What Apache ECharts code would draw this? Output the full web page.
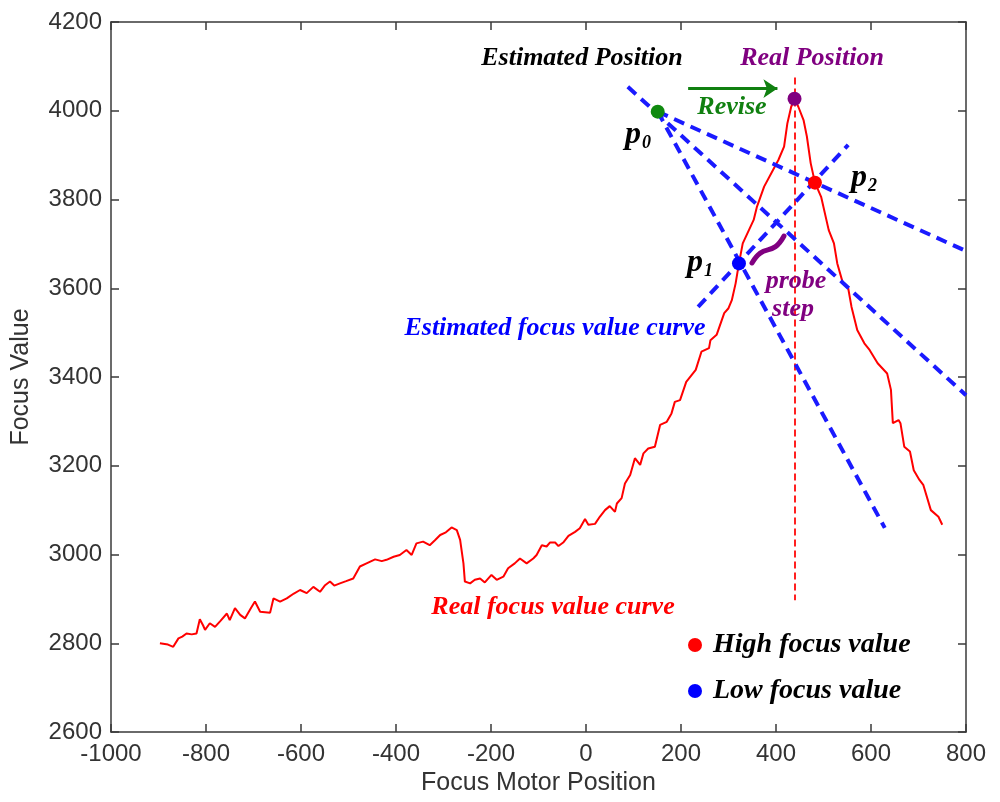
<!DOCTYPE html>
<html>
<head>
<meta charset="utf-8">
<script src="https://cdn.jsdelivr.net/npm/echarts@6/dist/echarts.min.js"></script>
<style>
  html, body { margin: 0; padding: 0; background: #fff; }
  #chart { width: 1000px; height: 802px; }
</style>
</head>
<body>
<div id="chart"></div>
<script>
// axis ranges (tick labels come from these)
const xMin = -1000, xMax = 800, xStep = 200;
const yMin = 2600, yMax = 4200, yStep = 200;

// real focus value curve
const curvePos = [-897, -880, -869, -858, -850, -841, -830, -820, -813, -806, -802, -792, -781, -770, -756, -750,
  -739, -728, -718, -705, -697, -686, -665, -658, -644, -630, -615, -602, -588, -574, -560, -550, -539, -530,
  -518, -505, -490, -476, -462, -444, -430, -420, -405, -392, -378, -367, -357, -343, -329, -318, -307, -295,
  -283, -272, -265, -258, -255, -244, -234, -223, -213, -199, -188, -174, -164, -150, -139, -125, -111, -104,
  -93, -83, -76, -65, -58, -48, -37, -23, -13, -2, 5, 19, 29, 40, 50, 61, 65, 75, 82, 93, 103, 114, 121, 131,
  145, 156, 170, 180, 187, 198, 211, 231, 243, 259, 262, 275, 291, 300, 307, 315, 322, 330, 353, 360, 375, 394,
  405, 417, 424, 432, 439, 447, 458, 465, 473, 482, 495, 511, 522, 529, 541, 552, 559, 571, 586, 597, 614, 634,
  642, 646, 658, 662, 670, 682, 690, 702, 710, 726, 742, 750];
const curveVal = [2800, 2797, 2792, 2811, 2815, 2822, 2820, 2822, 2854, 2840, 2830, 2845, 2837, 2850, 2867, 2852,
  2879, 2864, 2856, 2880, 2894, 2871, 2869, 2901, 2894, 2901, 2912, 2920, 2913, 2927, 2916, 2930, 2939, 2930,
  2935, 2940, 2946, 2973, 2980, 2989, 2985, 2988, 2995, 2999, 3010, 2999, 3025, 3029, 3021, 3032, 3044, 3050,
  3061, 3055, 3033, 2980, 2939, 2935, 2943, 2946, 2937, 2954, 2943, 2950, 2969, 2980, 2991, 2980, 2991, 2999,
  3021, 3018, 3027, 3027, 3019, 3027, 3042, 3051, 3059, 3080, 3067, 3069, 3085, 3100, 3109, 3096, 3115, 3127,
  3160, 3179, 3217, 3202, 3228, 3239, 3243, 3292, 3299, 3318, 3344, 3348, 3389, 3416, 3457, 3465, 3483, 3495,
  3544, 3555, 3573, 3611, 3656, 3701, 3754, 3784, 3829, 3867, 3889, 3919, 3972, 4009, 4027, 4009, 3979, 3942,
  3882, 3838, 3806, 3731, 3701, 3656, 3611, 3600, 3558, 3506, 3476, 3461, 3431, 3408, 3371, 3296, 3303, 3296,
  3243, 3232, 3190, 3168, 3157, 3100, 3085, 3067];

// key points
const p0 = [151, 3998];
const p1 = [322, 3656];
const p2 = [482, 3838];
const realPeak = [439, 4027];

// estimated (dashed) lines, end points
const lineMid = [[88, 4054], [800, 3359]];
const lineFlat = [[151, 3998], [800, 3684]];
const lineSteep = [[151, 3998], [629, 3060]];
const lineCross = [[236, 3558], [552, 3923]];
const realLine = [[440, 4075], [440, 2897]];
const reviseArrow = [[215, 4050], [403, 4050]];

const serif = "'Liberation Serif', 'Times New Roman', serif";
const sans = "'Liberation Sans', Arial, sans-serif";

const chart = echarts.init(document.getElementById('chart'));

function dashed(name, pts, color, width, dash) {
  return {
    name: name,
    type: 'line',
    data: pts,
    showSymbol: false,
    silent: true,
    z: 3,
    lineStyle: {color: color, width: width, type: dash}
  };
}

function dot(name, pt, color) {
  return {
    name: name,
    type: 'scatter',
    data: [pt],
    symbol: 'circle',
    symbolSize: 14,
    z: 5,
    itemStyle: {color: color, opacity: 1}
  };
}

function note(text, x, y, color, size) {
  return {
    type: 'text',
    x: x,
    y: y,
    z: 10,
    style: {
      text: text,
      fill: color,
      font: 'italic bold ' + size + 'px ' + serif,
      align: 'center',
      verticalAlign: 'middle'
    }
  };
}

function pLabel(sub, x, y) {
  return {
    type: 'text',
    x: x,
    y: y,
    z: 10,
    style: {
      text: '{p|p}{s|' + sub + '}',
      align: 'center',
      verticalAlign: 'middle',
      rich: {
        p: {fontFamily: serif, fontStyle: 'italic', fontWeight: 'bold', fontSize: 32, fill: '#000', lineHeight: 34},
        s: {fontFamily: serif, fontStyle: 'italic', fontWeight: 'bold', fontSize: 18, fill: '#000', lineHeight: 34, verticalAlign: 'bottom', padding: [0, 0, 0, 1]}
      }
    }
  };
}

const axisLine = {onZero: false, lineStyle: {color: '#3a3a3a', width: 1.5}};
const tick = {inside: true, length: 8, lineStyle: {color: '#3a3a3a', width: 1.5}};
const labelFont = {color: '#333', fontSize: 24, fontFamily: sans, formatter: v => String(v)};
const nameFont = {color: '#333', fontSize: 25, fontFamily: sans};

const options = {
  animation: false,
  backgroundColor: '#fff',
  grid: {left: 111, right: 34, top: 22, bottom: 70, containLabel: false},
  xAxis: [
    {
      type: 'value', min: xMin, max: xMax, interval: xStep, position: 'bottom',
      name: 'Focus Motor Position', nameLocation: 'middle', nameGap: 35, nameTextStyle: nameFont,
      axisLine: axisLine, axisTick: tick, splitLine: {show: false},
      axisLabel: Object.assign({margin: 10}, labelFont)
    },
    {
      type: 'value', min: xMin, max: xMax, interval: xStep, position: 'top',
      axisLine: axisLine, axisTick: tick, splitLine: {show: false}, axisLabel: {show: false}
    }
  ],
  yAxis: [
    {
      type: 'value', min: yMin, max: yMax, interval: yStep, position: 'left',
      name: 'Focus Value', nameLocation: 'middle', nameGap: 77, nameTextStyle: nameFont,
      axisLine: axisLine, axisTick: tick, splitLine: {show: false},
      axisLabel: Object.assign({margin: 9}, labelFont)
    },
    {
      type: 'value', min: yMin, max: yMax, interval: yStep, position: 'right',
      axisLine: axisLine, axisTick: tick, splitLine: {show: false}, axisLabel: {show: false}
    }
  ],
  legend: {
    orient: 'vertical',
    left: 683,
    top: 626,
    itemGap: 18,
    itemWidth: 14,
    itemHeight: 14,
    icon: 'circle',
    data: ['High focus value', 'Low focus value'],
    textStyle: {color: '#000', fontFamily: serif, fontStyle: 'italic', fontWeight: 'bold', fontSize: 28, padding: [0, 0, 0, 6]}
  },
  series: [
    {
      name: 'Real focus value curve',
      type: 'line',
      data: curvePos.map((x, i) => [x, curveVal[i]]),
      showSymbol: false,
      z: 2,
      lineStyle: {color: '#ff0000', width: 2}
    },
    dashed('real line', realLine, '#ff2020', 2, [7, 4]),
    dashed('est mid', lineMid, '#1a1aff', 4, [11, 7]),
    dashed('est flat', lineFlat, '#1a1aff', 4, [11, 7]),
    dashed('est steep', lineSteep, '#1a1aff', 4, [11, 7]),
    dashed('est cross', lineCross, '#1a1aff', 4, [11, 7]),
    {
      name: 'revise',
      type: 'lines',
      coordinateSystem: 'cartesian2d',
      polyline: false,
      symbol: ['none', 'arrow'],
      symbolSize: 14,
      z: 4,
      lineStyle: {color: '#108010', width: 3, opacity: 1},
      data: [{coords: reviseArrow}]
    },
    dot('p0', p0, '#108a10'),
    dot('Real Position', realPeak, '#800080'),
    dot('High focus value', p2, '#ff0000'),
    dot('Low focus value', p1, '#0000ff')
  ],
  graphic: [
    note('Estimated Position', 582, 58, '#000', 26),
    note('Real Position', 812, 58, '#800080', 26),
    note('Revise', 732, 107, '#108010', 26),
    note('probe', 796, 281, '#800080', 26),
    note('step', 793, 309, '#800080', 26),
    note('Estimated focus value curve', 555, 328, '#0000ff', 26),
    note('Real focus value curve', 553, 607, '#ff0000', 26),
    pLabel('0', 638, 135),
    pLabel('1', 700, 263),
    pLabel('2', 864, 178),
    {
      // probe-step brace
      type: 'bezierCurve',
      z: 10,
      shape: {x1: 752, y1: 263, cpx1: 764, cpy1: 242, cpx2: 772, cpy2: 258, x2: 784, y2: 236},
      style: {stroke: '#800080', lineWidth: 5, fill: null, lineCap: 'round'}
    }
  ]
};

chart.setOption(options);
</script>
</body>
</html>
